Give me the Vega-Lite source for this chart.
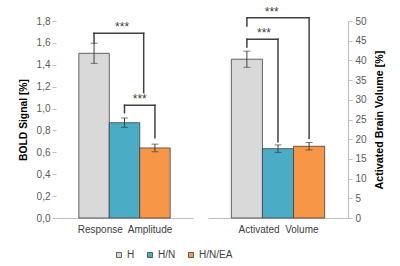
{
  "$schema": "https://vega.github.io/schema/vega-lite/v6.json",
  "padding": {"left": 18, "top": 5, "right": 5, "bottom": 5},
  "background": "white",
  "config": {
    "view": {"stroke": null},
    "font": "Liberation Sans",
    "axis": {"grid": false, "labelOverlap": false, "labelFlush": false}
  },
  "datasets": {
    "bars": [
      {"panel": "Response Amplitude", "group": "H", "value": 1.505, "err": 0.092},
      {"panel": "Response Amplitude", "group": "H/N", "value": 0.871, "err": 0.043},
      {"panel": "Response Amplitude", "group": "H/N/EA", "value": 0.64, "err": 0.035},
      {"panel": "Activated Volume", "group": "H", "value": 40.3, "err": 2.05},
      {"panel": "Activated Volume", "group": "H/N", "value": 17.6, "err": 0.95},
      {"panel": "Activated Volume", "group": "H/N/EA", "value": 18.2, "err": 0.95}
    ],
    "brackets": [
      {"panel": "Response Amplitude", "from": "H", "to": "H/N/EA", "y": 1.688, "yFrom": 1.599, "yTo": 1.145, "label": "***", "kind": "outer", "toEnd": "edge", "starAt": "H/N"},
      {"panel": "Response Amplitude", "from": "H/N", "to": "H/N/EA", "y": 1.03, "yFrom": 0.962, "yTo": 0.734, "label": "***", "kind": "inner", "toEnd": "center", "starAt": "H/N/EA"},
      {"panel": "Activated Volume", "from": "H", "to": "H/N/EA", "y": 50.84, "yFrom": 48.73, "yTo": 20.23, "label": "***", "kind": "outer", "toEnd": "center", "starAt": "H/N"},
      {"panel": "Activated Volume", "from": "H", "to": "H/N", "y": 45.36, "yFrom": 43.4, "yTo": 19.37, "label": "***", "kind": "inner", "toEnd": "center", "starAt": "H/N"}
    ]
  },
  "spacing": 15,
  "resolve": {"scale": {"color": "shared"}, "legend": {"color": "shared"}},
  "hconcat": [
    {
      "width": 137,
      "height": 197,
      "layer": [
        {
          "data": {"name": "bars"},
          "transform": [{"filter": "datum.panel == 'Response Amplitude'"}],
          "mark": {"type": "bar", "stroke": "#404040", "strokeWidth": 0.8},
          "encoding": {
            "x": {"field": "group", "type": "nominal", "title": "Response\u00a0 Amplitude",
              "scale": {"domain": ["H", "H/N", "H/N/EA"], "paddingInner": 0, "paddingOuter": 0.75},
              "axis": {"labels": false, "ticks": false, "domainColor": "#bfbfbf", "titleFontSize": 10, "titleFontWeight": "normal", "titleColor": "#404040", "titlePadding": 6}},
            "y": {"field": "value", "type": "quantitative", "title": "BOLD Signal [%]",
              "scale": {"domain": [0, 1.8], "nice": false},
              "axis": {"values": [0, 0.2, 0.4, 0.6, 0.8, 1.0, 1.2, 1.4, 1.6, 1.8], "labelOverlap": false, "labelExpr": "replace(format(datum.value, '.1f'), '.', ',')", "domain": false, "tickSize": 4, "tickColor": "#bfbfbf", "labelFontSize": 10, "labelColor": "#595959", "labelPadding": 2, "titleFontSize": 10.3, "titleFontWeight": "bold", "titleColor": "#000000", "titlePadding": 8}},
            "color": {"field": "group", "type": "nominal",
              "scale": {"domain": ["H", "H/N", "H/N/EA"], "range": ["#d9d9d9", "#4bacc6", "#f79646"]},
              "legend": {"orient": "none", "legendX": 58, "legendY": 229, "direction": "horizontal", "title": null, "symbolType": "square", "symbolSize": 25, "symbolStrokeColor": "#404040", "symbolStrokeWidth": 0.8, "labelFontSize": 10, "labelColor": "#404040", "labelOffset": 3, "columnPadding": 10}}
          }
        },
        {
          "data": {"name": "bars"},
          "transform": [{"filter": "datum.panel == 'Response Amplitude'"}],
          "mark": {"type": "errorbar", "ticks": {"size": 7, "color": "#404040"}, "rule": {"color": "#404040", "strokeWidth": 1}},
          "encoding": {
            "x": {"field": "group", "type": "nominal", "title": "Response\u00a0 Amplitude",
              "axis": {"labels": false, "ticks": false, "domainColor": "#bfbfbf", "titleFontSize": 10, "titleFontWeight": "normal", "titleColor": "#404040", "titlePadding": 6}},
            "y": {"field": "value", "type": "quantitative", "title": "BOLD Signal [%]",
              "axis": {"values": [0, 0.2, 0.4, 0.6, 0.8, 1.0, 1.2, 1.4, 1.6, 1.8], "labelOverlap": false, "labelExpr": "replace(format(datum.value, '.1f'), '.', ',')", "domain": false, "tickSize": 4, "tickColor": "#bfbfbf", "labelFontSize": 10, "labelColor": "#595959", "labelPadding": 2, "titleFontSize": 10.3, "titleFontWeight": "bold", "titleColor": "#000000", "titlePadding": 8}},
            "yError": {"field": "err"}
          }
        },
        {
          "data": {"name": "brackets"},
          "transform": [{"filter": "datum.panel == 'Response Amplitude' && datum.toEnd == 'center'"}],
          "mark": {"type": "rule", "color": "#404040", "strokeWidth": 1.5, "strokeCap": "square"},
          "encoding": {
            "x": {"field": "from", "type": "nominal", "title": "Response\u00a0 Amplitude",
              "axis": {"labels": false, "ticks": false, "domainColor": "#bfbfbf", "titleFontSize": 10, "titleFontWeight": "normal", "titleColor": "#404040", "titlePadding": 6}},
            "x2": {"field": "to"},
            "y": {"field": "y", "type": "quantitative", "title": "BOLD Signal [%]",
              "axis": {"values": [0, 0.2, 0.4, 0.6, 0.8, 1.0, 1.2, 1.4, 1.6, 1.8], "labelOverlap": false, "labelExpr": "replace(format(datum.value, '.1f'), '.', ',')", "domain": false, "tickSize": 4, "tickColor": "#bfbfbf", "labelFontSize": 10, "labelColor": "#595959", "labelPadding": 2, "titleFontSize": 10.3, "titleFontWeight": "bold", "titleColor": "#000000", "titlePadding": 8}}
          }
        },
        {
          "data": {"name": "brackets"},
          "transform": [{"filter": "datum.panel == 'Response Amplitude' && datum.toEnd == 'edge'"}],
          "mark": {"type": "rule", "color": "#404040", "strokeWidth": 1.5, "strokeCap": "square"},
          "encoding": {
            "x": {"field": "from", "type": "nominal", "title": "Response\u00a0 Amplitude",
              "axis": {"labels": false, "ticks": false, "domainColor": "#bfbfbf", "titleFontSize": 10, "titleFontWeight": "normal", "titleColor": "#404040", "titlePadding": 6}},
            "x2": {"field": "to", "bandPosition": 0.13},
            "y": {"field": "y", "type": "quantitative", "title": "BOLD Signal [%]",
              "axis": {"values": [0, 0.2, 0.4, 0.6, 0.8, 1.0, 1.2, 1.4, 1.6, 1.8], "labelOverlap": false, "labelExpr": "replace(format(datum.value, '.1f'), '.', ',')", "domain": false, "tickSize": 4, "tickColor": "#bfbfbf", "labelFontSize": 10, "labelColor": "#595959", "labelPadding": 2, "titleFontSize": 10.3, "titleFontWeight": "bold", "titleColor": "#000000", "titlePadding": 8}}
          }
        },
        {
          "data": {"name": "brackets"},
          "transform": [{"filter": "datum.panel == 'Response Amplitude'"}],
          "mark": {"type": "rule", "color": "#404040", "strokeWidth": 1.5, "strokeCap": "square"},
          "encoding": {
            "x": {"field": "from", "type": "nominal", "title": "Response\u00a0 Amplitude",
              "axis": {"labels": false, "ticks": false, "domainColor": "#bfbfbf", "titleFontSize": 10, "titleFontWeight": "normal", "titleColor": "#404040", "titlePadding": 6}},
            "y": {"field": "y", "type": "quantitative", "title": "BOLD Signal [%]",
              "axis": {"values": [0, 0.2, 0.4, 0.6, 0.8, 1.0, 1.2, 1.4, 1.6, 1.8], "labelOverlap": false, "labelExpr": "replace(format(datum.value, '.1f'), '.', ',')", "domain": false, "tickSize": 4, "tickColor": "#bfbfbf", "labelFontSize": 10, "labelColor": "#595959", "labelPadding": 2, "titleFontSize": 10.3, "titleFontWeight": "bold", "titleColor": "#000000", "titlePadding": 8}},
            "y2": {"field": "yFrom"}
          }
        },
        {
          "data": {"name": "brackets"},
          "transform": [{"filter": "datum.panel == 'Response Amplitude' && datum.toEnd == 'center'"}],
          "mark": {"type": "rule", "color": "#404040", "strokeWidth": 1.5, "strokeCap": "square"},
          "encoding": {
            "x": {"field": "to", "type": "nominal", "title": "Response\u00a0 Amplitude",
              "axis": {"labels": false, "ticks": false, "domainColor": "#bfbfbf", "titleFontSize": 10, "titleFontWeight": "normal", "titleColor": "#404040", "titlePadding": 6}},
            "y": {"field": "y", "type": "quantitative", "title": "BOLD Signal [%]",
              "axis": {"values": [0, 0.2, 0.4, 0.6, 0.8, 1.0, 1.2, 1.4, 1.6, 1.8], "labelOverlap": false, "labelExpr": "replace(format(datum.value, '.1f'), '.', ',')", "domain": false, "tickSize": 4, "tickColor": "#bfbfbf", "labelFontSize": 10, "labelColor": "#595959", "labelPadding": 2, "titleFontSize": 10.3, "titleFontWeight": "bold", "titleColor": "#000000", "titlePadding": 8}},
            "y2": {"field": "yTo"}
          }
        },
        {
          "data": {"name": "brackets"},
          "transform": [{"filter": "datum.panel == 'Response Amplitude' && datum.toEnd == 'edge'"}],
          "mark": {"type": "rule", "color": "#404040", "strokeWidth": 1.5, "strokeCap": "square"},
          "encoding": {
            "x": {"field": "to", "type": "nominal", "bandPosition": 0.13, "title": "Response\u00a0 Amplitude",
              "axis": {"labels": false, "ticks": false, "domainColor": "#bfbfbf", "titleFontSize": 10, "titleFontWeight": "normal", "titleColor": "#404040", "titlePadding": 6}},
            "y": {"field": "y", "type": "quantitative", "title": "BOLD Signal [%]",
              "axis": {"values": [0, 0.2, 0.4, 0.6, 0.8, 1.0, 1.2, 1.4, 1.6, 1.8], "labelOverlap": false, "labelExpr": "replace(format(datum.value, '.1f'), '.', ',')", "domain": false, "tickSize": 4, "tickColor": "#bfbfbf", "labelFontSize": 10, "labelColor": "#595959", "labelPadding": 2, "titleFontSize": 10.3, "titleFontWeight": "bold", "titleColor": "#000000", "titlePadding": 8}},
            "y2": {"field": "yTo"}
          }
        },
        {
          "data": {"name": "brackets"},
          "transform": [{"filter": "datum.panel == 'Response Amplitude' && datum.kind == 'outer'"}],
          "mark": {"type": "text", "fontSize": 12, "color": "#404040", "baseline": "alphabetic", "dy": -2},
          "encoding": {
            "x": {"field": "starAt", "type": "nominal", "bandPosition": 0.42, "title": "Response\u00a0 Amplitude",
              "axis": {"labels": false, "ticks": false, "domainColor": "#bfbfbf", "titleFontSize": 10, "titleFontWeight": "normal", "titleColor": "#404040", "titlePadding": 6}},
            "y": {"field": "y", "type": "quantitative", "title": "BOLD Signal [%]",
              "axis": {"values": [0, 0.2, 0.4, 0.6, 0.8, 1.0, 1.2, 1.4, 1.6, 1.8], "labelOverlap": false, "labelExpr": "replace(format(datum.value, '.1f'), '.', ',')", "domain": false, "tickSize": 4, "tickColor": "#bfbfbf", "labelFontSize": 10, "labelColor": "#595959", "labelPadding": 2, "titleFontSize": 10.3, "titleFontWeight": "bold", "titleColor": "#000000", "titlePadding": 8}},
            "text": {"field": "label"}
          }
        },
        {
          "data": {"name": "brackets"},
          "transform": [{"filter": "datum.panel == 'Response Amplitude' && datum.kind == 'inner'"}],
          "mark": {"type": "text", "fontSize": 12, "color": "#404040", "baseline": "alphabetic", "dy": -2},
          "encoding": {
            "x": {"field": "starAt", "type": "nominal", "bandPosition": 0, "title": "Response\u00a0 Amplitude",
              "axis": {"labels": false, "ticks": false, "domainColor": "#bfbfbf", "titleFontSize": 10, "titleFontWeight": "normal", "titleColor": "#404040", "titlePadding": 6}},
            "y": {"field": "y", "type": "quantitative", "title": "BOLD Signal [%]",
              "axis": {"values": [0, 0.2, 0.4, 0.6, 0.8, 1.0, 1.2, 1.4, 1.6, 1.8], "labelOverlap": false, "labelExpr": "replace(format(datum.value, '.1f'), '.', ',')", "domain": false, "tickSize": 4, "tickColor": "#bfbfbf", "labelFontSize": 10, "labelColor": "#595959", "labelPadding": 2, "titleFontSize": 10.3, "titleFontWeight": "bold", "titleColor": "#000000", "titlePadding": 8}},
            "text": {"field": "label"}
          }
        }
      ]
    },
    {
      "width": 140,
      "height": 197,
      "layer": [
        {
          "data": {"name": "bars"},
          "transform": [{"filter": "datum.panel == 'Activated Volume'"}],
          "mark": {"type": "bar", "stroke": "#404040", "strokeWidth": 0.8},
          "encoding": {
            "x": {"field": "group", "type": "nominal", "title": "Activated\u00a0 Volume",
              "scale": {"domain": ["H", "H/N", "H/N/EA"], "paddingInner": 0, "paddingOuter": 0.75},
              "axis": {"labels": false, "ticks": false, "domainColor": "#bfbfbf", "titleFontSize": 10, "titleFontWeight": "normal", "titleColor": "#404040", "titlePadding": 6}},
            "y": {"field": "value", "type": "quantitative", "title": "Activated Brain Volume [%]",
              "scale": {"domain": [0, 50], "nice": false},
              "axis": {"orient": "right", "values": [0, 5, 10, 15, 20, 25, 30, 35, 40, 45, 50], "labelOverlap": false, "domain": true, "domainColor": "#bfbfbf", "tickSize": 4, "tickColor": "#bfbfbf", "labelFontSize": 10, "labelColor": "#595959", "labelPadding": 3, "titleFontSize": 10.7, "titleFontWeight": "bold", "titleColor": "#000000", "titlePadding": 8, "titleAngle": 270, "titleBaseline": "top"}},
            "color": {"field": "group", "type": "nominal",
              "scale": {"domain": ["H", "H/N", "H/N/EA"], "range": ["#d9d9d9", "#4bacc6", "#f79646"]},
              "legend": null}
          }
        },
        {
          "data": {"name": "bars"},
          "transform": [{"filter": "datum.panel == 'Activated Volume'"}],
          "mark": {"type": "errorbar", "ticks": {"size": 7, "color": "#404040"}, "rule": {"color": "#404040", "strokeWidth": 1}},
          "encoding": {
            "x": {"field": "group", "type": "nominal", "title": "Activated\u00a0 Volume",
              "axis": {"labels": false, "ticks": false, "domainColor": "#bfbfbf", "titleFontSize": 10, "titleFontWeight": "normal", "titleColor": "#404040", "titlePadding": 6}},
            "y": {"field": "value", "type": "quantitative", "title": "Activated Brain Volume [%]",
              "axis": {"orient": "right", "values": [0, 5, 10, 15, 20, 25, 30, 35, 40, 45, 50], "labelOverlap": false, "domain": true, "domainColor": "#bfbfbf", "tickSize": 4, "tickColor": "#bfbfbf", "labelFontSize": 10, "labelColor": "#595959", "labelPadding": 3, "titleFontSize": 10.7, "titleFontWeight": "bold", "titleColor": "#000000", "titlePadding": 8, "titleAngle": 270, "titleBaseline": "top"}},
            "yError": {"field": "err"}
          }
        },
        {
          "data": {"name": "brackets"},
          "transform": [{"filter": "datum.panel == 'Activated Volume'"}],
          "mark": {"type": "rule", "color": "#404040", "strokeWidth": 1.5, "strokeCap": "square"},
          "encoding": {
            "x": {"field": "from", "type": "nominal", "title": "Activated\u00a0 Volume",
              "axis": {"labels": false, "ticks": false, "domainColor": "#bfbfbf", "titleFontSize": 10, "titleFontWeight": "normal", "titleColor": "#404040", "titlePadding": 6}},
            "x2": {"field": "to"},
            "y": {"field": "y", "type": "quantitative", "title": "Activated Brain Volume [%]",
              "axis": {"orient": "right", "values": [0, 5, 10, 15, 20, 25, 30, 35, 40, 45, 50], "labelOverlap": false, "domain": true, "domainColor": "#bfbfbf", "tickSize": 4, "tickColor": "#bfbfbf", "labelFontSize": 10, "labelColor": "#595959", "labelPadding": 3, "titleFontSize": 10.7, "titleFontWeight": "bold", "titleColor": "#000000", "titlePadding": 8, "titleAngle": 270, "titleBaseline": "top"}}
          }
        },
        {
          "data": {"name": "brackets"},
          "transform": [{"filter": "datum.panel == 'Activated Volume'"}],
          "mark": {"type": "rule", "color": "#404040", "strokeWidth": 1.5, "strokeCap": "square"},
          "encoding": {
            "x": {"field": "from", "type": "nominal", "title": "Activated\u00a0 Volume",
              "axis": {"labels": false, "ticks": false, "domainColor": "#bfbfbf", "titleFontSize": 10, "titleFontWeight": "normal", "titleColor": "#404040", "titlePadding": 6}},
            "y": {"field": "y", "type": "quantitative", "title": "Activated Brain Volume [%]",
              "axis": {"orient": "right", "values": [0, 5, 10, 15, 20, 25, 30, 35, 40, 45, 50], "labelOverlap": false, "domain": true, "domainColor": "#bfbfbf", "tickSize": 4, "tickColor": "#bfbfbf", "labelFontSize": 10, "labelColor": "#595959", "labelPadding": 3, "titleFontSize": 10.7, "titleFontWeight": "bold", "titleColor": "#000000", "titlePadding": 8, "titleAngle": 270, "titleBaseline": "top"}},
            "y2": {"field": "yFrom"}
          }
        },
        {
          "data": {"name": "brackets"},
          "transform": [{"filter": "datum.panel == 'Activated Volume'"}],
          "mark": {"type": "rule", "color": "#404040", "strokeWidth": 1.5, "strokeCap": "square"},
          "encoding": {
            "x": {"field": "to", "type": "nominal", "title": "Activated\u00a0 Volume",
              "axis": {"labels": false, "ticks": false, "domainColor": "#bfbfbf", "titleFontSize": 10, "titleFontWeight": "normal", "titleColor": "#404040", "titlePadding": 6}},
            "y": {"field": "y", "type": "quantitative", "title": "Activated Brain Volume [%]",
              "axis": {"orient": "right", "values": [0, 5, 10, 15, 20, 25, 30, 35, 40, 45, 50], "labelOverlap": false, "domain": true, "domainColor": "#bfbfbf", "tickSize": 4, "tickColor": "#bfbfbf", "labelFontSize": 10, "labelColor": "#595959", "labelPadding": 3, "titleFontSize": 10.7, "titleFontWeight": "bold", "titleColor": "#000000", "titlePadding": 8, "titleAngle": 270, "titleBaseline": "top"}},
            "y2": {"field": "yTo"}
          }
        },
        {
          "data": {"name": "brackets"},
          "transform": [{"filter": "datum.panel == 'Activated Volume' && datum.kind == 'outer'"}],
          "mark": {"type": "text", "fontSize": 12, "color": "#404040", "baseline": "alphabetic", "dy": -2},
          "encoding": {
            "x": {"field": "starAt", "type": "nominal", "bandPosition": 0.3, "title": "Activated\u00a0 Volume",
              "axis": {"labels": false, "ticks": false, "domainColor": "#bfbfbf", "titleFontSize": 10, "titleFontWeight": "normal", "titleColor": "#404040", "titlePadding": 6}},
            "y": {"field": "y", "type": "quantitative", "title": "Activated Brain Volume [%]",
              "axis": {"orient": "right", "values": [0, 5, 10, 15, 20, 25, 30, 35, 40, 45, 50], "labelOverlap": false, "domain": true, "domainColor": "#bfbfbf", "tickSize": 4, "tickColor": "#bfbfbf", "labelFontSize": 10, "labelColor": "#595959", "labelPadding": 3, "titleFontSize": 10.7, "titleFontWeight": "bold", "titleColor": "#000000", "titlePadding": 8, "titleAngle": 270, "titleBaseline": "top"}},
            "text": {"field": "label"}
          }
        },
        {
          "data": {"name": "brackets"},
          "transform": [{"filter": "datum.panel == 'Activated Volume' && datum.kind == 'inner'"}],
          "mark": {"type": "text", "fontSize": 12, "color": "#404040", "baseline": "alphabetic", "dy": -2},
          "encoding": {
            "x": {"field": "starAt", "type": "nominal", "bandPosition": 0.05, "title": "Activated\u00a0 Volume",
              "axis": {"labels": false, "ticks": false, "domainColor": "#bfbfbf", "titleFontSize": 10, "titleFontWeight": "normal", "titleColor": "#404040", "titlePadding": 6}},
            "y": {"field": "y", "type": "quantitative", "title": "Activated Brain Volume [%]",
              "axis": {"orient": "right", "values": [0, 5, 10, 15, 20, 25, 30, 35, 40, 45, 50], "labelOverlap": false, "domain": true, "domainColor": "#bfbfbf", "tickSize": 4, "tickColor": "#bfbfbf", "labelFontSize": 10, "labelColor": "#595959", "labelPadding": 3, "titleFontSize": 10.7, "titleFontWeight": "bold", "titleColor": "#000000", "titlePadding": 8, "titleAngle": 270, "titleBaseline": "top"}},
            "text": {"field": "label"}
          }
        }
      ]
    }
  ]
}
